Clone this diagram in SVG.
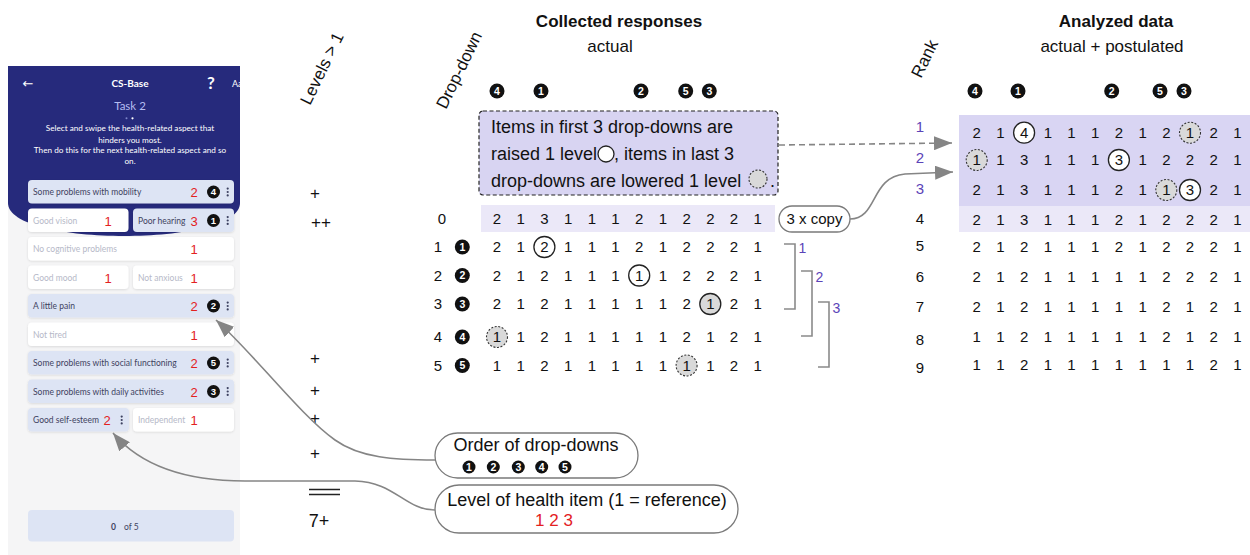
<svg xmlns="http://www.w3.org/2000/svg" width="1250" height="555" viewBox="0 0 1250 555">
  <defs>
    <style>
      text { font-family: "Liberation Sans", Arial, sans-serif; fill: #111; }
      .h { font-size: 17px; font-weight: bold; text-anchor: middle; }
      .sub { font-size: 17px; text-anchor: middle; }
      .rot { font-size: 17px; }
      .g { font-size: 15px; text-anchor: middle; }
      .mk { font-size: 17px; text-anchor: middle; }
      .box { font-size: 18px; }
      .lbl { font-size: 18px; text-anchor: middle; }
      .nb circle { fill: #111; }
      .nb text { fill: #fff; font-weight: bold; font-size: 10.5px; text-anchor: middle; }
      .pn circle { fill: #111; }
      .pn text { fill: #fff; font-weight: bold; font-size: 9.5px; text-anchor: middle; }
      .purple { fill: #5b43b8; }
      .red { fill: #e3211f; }
      .ring { fill: #fff; stroke: #222; stroke-width: 1.3; }
      .shade { fill: #d9d9d9; stroke: #222; stroke-width: 1.3; }
      .dshade { fill: #d9d9d9; stroke: #333; stroke-width: 1.1; stroke-dasharray: 2 1.6; }
      .conn { fill: none; stroke: #858585; stroke-width: 1.6; }
      .pill { fill: #fff; stroke: #7a7a7a; stroke-width: 1.3; }
      .brk { fill: none; stroke: #8a8a8a; stroke-width: 1.6; }
      .cb { fill: #dde4f4; filter: url(#sh); }
      .cw { fill: #ffffff; filter: url(#sh); }
      .ct { font-family: Lato, "Noto Sans", sans-serif; font-size: 8.5px; fill: #3d4260; }
      .cg { font-family: Lato, "Noto Sans", sans-serif; font-size: 8.5px; fill: #b6b9c8; }
      .rd { font-size: 13px; fill: #e3211f; text-anchor: middle; }
      .dots circle { fill: #3d4260; }
      .hw { font-family: Lato, "Noto Sans", sans-serif; fill: #fff; text-anchor: middle; }
    </style>
    <filter id="sh" x="-5%" y="-25%" width="110%" height="160%">
      <feDropShadow dx="0" dy="0.8" stdDeviation="0.8" flood-color="#000" flood-opacity="0.12"/>
    </filter>
    <clipPath id="phoneClip"><rect x="8" y="66" width="232" height="489"/></clipPath>
    <marker id="ah" markerUnits="userSpaceOnUse" markerWidth="20" markerHeight="14" refX="18" refY="7" orient="auto" viewBox="0 0 20 14">
      <path d="M0,0 L18,7 L0,14 z" fill="#858585"/>
    </marker>
  </defs>

  <!-- app screen -->
  <g id="phone" clip-path="url(#phoneClip)">
    <rect x="8" y="66" width="232" height="489" fill="#f5f5f6"/>
    <path d="M8,66 H240 V203 C240,247 8,247 8,203 Z" fill="#262a7c"/>
    <text x="28" y="88" class="hw" style="font-family:'DejaVu Sans',sans-serif;font-size:13px">←</text>
    <text x="130" y="87" class="hw" style="font-size:10px;font-weight:bold">CS-Base</text>
    <text x="211" y="89" class="hw" style="font-size:17px;font-weight:bold">?</text>
    <text x="232" y="87" class="hw" style="font-size:9px;text-anchor:start">Aa</text>
    <text x="130" y="110" class="hw" style="font-size:11.5px;fill:#b4bdf2">Task 2</text>
    <circle cx="126.5" cy="118.3" r="1" fill="#7c84c8"/>
    <circle cx="132.5" cy="118.3" r="1.1" fill="#fff"/>
    <text class="hw" style="font-size:8.2px" x="130" y="131">Select and swipe the health-related aspect that</text>
    <text class="hw" style="font-size:8.2px" x="130" y="142.5">hinders you most.</text>
    <text class="hw" style="font-size:8.2px" x="130" y="153">Then do this for the next health-related aspect and so</text>
    <text class="hw" style="font-size:8.2px" x="130" y="163.5">on.</text>

    <!-- row 1 -->
    <rect class="cb" x="28" y="180" width="206" height="23.5" rx="4"/>
    <text class="ct" x="33" y="195">Some problems with mobility</text>
    <text class="rd" x="194" y="197">2</text>
    <g class="pn"><circle cx="213.5" cy="192" r="6.5"/><text x="213.5" y="195.4">4</text></g>
    <g class="dots"><circle cx="227.7" cy="188.6" r="1.1"/><circle cx="227.7" cy="192" r="1.1"/><circle cx="227.7" cy="195.4" r="1.1"/></g>

    <!-- row 2 -->
    <rect class="cw" x="28" y="208.5" width="100.5" height="23.5" rx="4"/>
    <text class="cg" x="33" y="223.5">Good vision</text>
    <text class="rd" x="108" y="225.5">1</text>
    <rect class="cb" x="133" y="208.5" width="101" height="23.5" rx="4"/>
    <text class="ct" x="138" y="223.5">Poor hearing</text>
    <text class="rd" x="194" y="225.5">3</text>
    <g class="pn"><circle cx="213.5" cy="220.5" r="6.5"/><text x="213.5" y="223.9">1</text></g>
    <g class="dots"><circle cx="227.7" cy="217.1" r="1.1"/><circle cx="227.7" cy="220.5" r="1.1"/><circle cx="227.7" cy="223.9" r="1.1"/></g>

    <!-- row 3 -->
    <rect class="cw" x="28" y="237" width="206" height="23.5" rx="4"/>
    <text class="cg" x="33" y="252">No cognitive problems</text>
    <text class="rd" x="194" y="254">1</text>

    <!-- row 4 -->
    <rect class="cw" x="28" y="265.5" width="100.5" height="23.5" rx="4"/>
    <text class="cg" x="33" y="280.5">Good mood</text>
    <text class="rd" x="108" y="282.5">1</text>
    <rect class="cw" x="133" y="265.5" width="101" height="23.5" rx="4"/>
    <text class="cg" x="138" y="280.5">Not anxious</text>
    <text class="rd" x="194" y="282.5">1</text>

    <!-- row 5 -->
    <rect class="cb" x="28" y="294" width="206" height="23.5" rx="4"/>
    <text class="ct" x="33" y="309">A little pain</text>
    <text class="rd" x="194" y="311">2</text>
    <g class="pn"><circle cx="213.5" cy="306" r="6.5"/><text x="213.5" y="309.4">2</text></g>
    <g class="dots"><circle cx="227.7" cy="302.6" r="1.1"/><circle cx="227.7" cy="306" r="1.1"/><circle cx="227.7" cy="309.4" r="1.1"/></g>

    <!-- row 6 -->
    <rect class="cw" x="28" y="322.5" width="206" height="23.5" rx="4"/>
    <text class="cg" x="33" y="337.5">Not tired</text>
    <text class="rd" x="194" y="339.5">1</text>

    <!-- row 7 -->
    <rect class="cb" x="28" y="351" width="206" height="23.5" rx="4"/>
    <text class="ct" x="33" y="366">Some problems with social functioning</text>
    <text class="rd" x="194" y="368">2</text>
    <g class="pn"><circle cx="213.5" cy="363" r="6.5"/><text x="213.5" y="366.4">5</text></g>
    <g class="dots"><circle cx="227.7" cy="359.6" r="1.1"/><circle cx="227.7" cy="363" r="1.1"/><circle cx="227.7" cy="366.4" r="1.1"/></g>

    <!-- row 8 -->
    <rect class="cb" x="28" y="379.5" width="206" height="23.5" rx="4"/>
    <text class="ct" x="33" y="394.5">Some problems with daily activities</text>
    <text class="rd" x="194" y="396.5">2</text>
    <g class="pn"><circle cx="213.5" cy="391.5" r="6.5"/><text x="213.5" y="394.9">3</text></g>
    <g class="dots"><circle cx="227.7" cy="388.1" r="1.1"/><circle cx="227.7" cy="391.5" r="1.1"/><circle cx="227.7" cy="394.9" r="1.1"/></g>

    <!-- row 9 -->
    <rect class="cb" x="28" y="408" width="101" height="23.5" rx="4"/>
    <text class="ct" x="33" y="423">Good self-esteem</text>
    <text class="rd" x="107" y="425">2</text>
    <g class="dots"><circle cx="121.7" cy="416.6" r="1.1"/><circle cx="121.7" cy="420" r="1.1"/><circle cx="121.7" cy="423.4" r="1.1"/></g>
    <rect class="cw" x="133" y="408" width="101" height="23.5" rx="4"/>
    <text class="cg" x="138" y="423">Independent</text>
    <text class="rd" x="194" y="425">1</text>

    <!-- counter -->
    <rect x="28" y="510" width="206" height="31.5" rx="4" fill="#dde4f4"/>
    <text class="ct" x="113.5" y="529.5" style="font-weight:bold;text-anchor:middle">0</text>
    <text class="ct" x="124" y="529.5">of 5</text>
  </g>

  <!-- rotated column headings and titles -->
  <g id="headings">
    <text class="rot" transform="translate(310,106) rotate(-64)">Levels &gt; 1</text>
    <text class="rot" transform="translate(446,110) rotate(-64)">Drop-down</text>
    <text class="rot" transform="translate(921,79) rotate(-64)">Rank</text>
    <text class="h" x="619" y="27">Collected responses</text>
    <text class="sub" x="610" y="52">actual</text>
    <text class="h" x="1116" y="27">Analyzed data</text>
    <text class="sub" x="1112" y="52">actual + postulated</text>
  </g>

  <!-- level markers -->
  <g id="levels">
    <text class="mk" x="315" y="199">+</text>
    <text class="mk" x="321" y="228">++</text>
    <text class="mk" x="315" y="364">+</text>
    <text class="mk" x="315" y="396">+</text>
    <text class="mk" x="315" y="424">+</text>
    <text class="mk" x="315" y="459">+</text>
    <path d="M309,489.5 H340 M309,494.5 H340" stroke="#222" stroke-width="1.4"/>
    <text class="mk" x="319" y="527" style="font-size:18px">7+</text>
  </g>

  <!-- collected responses -->
  <g id="collected">
    <g class="nb">
      <circle cx="497" cy="91" r="7.5"/><text x="497" y="94.8">4</text>
      <circle cx="541" cy="91" r="7.5"/><text x="541" y="94.8">1</text>
      <circle cx="641" cy="91" r="7.5"/><text x="641" y="94.8">2</text>
      <circle cx="685.7" cy="91" r="7.5"/><text x="685.7" y="94.8">5</text>
      <circle cx="709.3" cy="91" r="7.5"/><text x="709.3" y="94.8">3</text>
    </g>
    <rect x="481" y="205" width="294" height="27" fill="#ebe8f8"/>
    <circle class="ring" cx="544.4" cy="247" r="10.5"/>
    <circle class="ring" cx="639.2" cy="275.5" r="10.5"/>
    <circle class="shade" cx="710.3" cy="304" r="10.5"/>
    <circle class="dshade" cx="497" cy="337" r="10.5"/>
    <circle class="dshade" cx="686.6" cy="365.5" r="10.5"/>
    <g class="g">
      <text x="497 520.7 544.4 568.1 591.8 615.5 639.2 662.9 686.6 710.3 734 757.7" y="224.4">213111212221</text>
      <text x="497 520.7 544.4 568.1 591.8 615.5 639.2 662.9 686.6 710.3 734 757.7" y="252.4">212111212221</text>
      <text x="497 520.7 544.4 568.1 591.8 615.5 639.2 662.9 686.6 710.3 734 757.7" y="280.9">212111112221</text>
      <text x="497 520.7 544.4 568.1 591.8 615.5 639.2 662.9 686.6 710.3 734 757.7" y="309.4">212111112121</text>
      <text x="497 520.7 544.4 568.1 591.8 615.5 639.2 662.9 686.6 710.3 734 757.7" y="342.4">112111112121</text>
      <text x="497 520.7 544.4 568.1 591.8 615.5 639.2 662.9 686.6 710.3 734 757.7" y="370.9">112111111121</text>
      <text x="442" y="224.4">0</text>
      <text x="438" y="252.4">1</text>
      <text x="438" y="280.9">2</text>
      <text x="438" y="309.4">3</text>
      <text x="438" y="342.4">4</text>
      <text x="438" y="370.9">5</text>
    </g>
    <g class="nb">
      <circle cx="462.3" cy="247" r="7.5"/><text x="462.3" y="250.8">1</text>
      <circle cx="462.3" cy="275.5" r="7.5"/><text x="462.3" y="279.3">2</text>
      <circle cx="462.3" cy="304" r="7.5"/><text x="462.3" y="307.8">3</text>
      <circle cx="462.3" cy="337" r="7.5"/><text x="462.3" y="340.8">4</text>
      <circle cx="462.3" cy="365.5" r="7.5"/><text x="462.3" y="369.3">5</text>
    </g>
  </g>

  <!-- rule note -->
  <g id="rule-note">
    <rect x="479" y="111" width="299" height="84" rx="4" fill="#d8d4f2" stroke="#222" stroke-width="1.2" stroke-dasharray="4 2.5"/>
    <text class="box" x="491" y="133">Items in first 3 drop-downs are</text>
    <text class="box" x="491" y="160">raised 1 level</text>
    <circle class="ring" cx="606" cy="154" r="8"/>
    <text class="box" x="614" y="160">, items in last 3</text>
    <text class="box" x="491" y="187">drop-downs are lowered 1 level</text>
    <circle class="dshade" cx="758" cy="179" r="9"/>
    <text class="box" x="770" y="187">.</text>
  </g>

  <!-- copy note -->
  <g id="copy-note">
    <rect class="pill" x="779" y="206" width="71" height="26" rx="13"/>
    <text x="814.5" y="224" style="font-size:15px;text-anchor:middle">3 x copy</text>
  </g>

  <!-- analyzed data -->
  <g id="analyzed">
    <g class="nb">
      <circle cx="975" cy="91" r="7.5"/><text x="975" y="94.8">4</text>
      <circle cx="1018" cy="91" r="7.5"/><text x="1018" y="94.8">1</text>
      <circle cx="1111.7" cy="91" r="7.5"/><text x="1111.7" y="94.8">2</text>
      <circle cx="1160" cy="91" r="7.5"/><text x="1160" y="94.8">5</text>
      <circle cx="1184" cy="91" r="7.5"/><text x="1184" y="94.8">3</text>
    </g>
    <rect x="959" y="115" width="291" height="91" fill="#d9d5f3"/>
    <rect x="959" y="206" width="291" height="26" fill="#ebe8f8"/>
    <circle class="ring" cx="1024.1" cy="132.7" r="10.5"/>
    <circle class="dshade" cx="1190" cy="132.7" r="10.5"/>
    <circle class="dshade" cx="976.7" cy="160" r="10.5"/>
    <circle class="ring" cx="1118.9" cy="160" r="10.5"/>
    <circle class="dshade" cx="1166.3" cy="190" r="10.5"/>
    <circle class="ring" cx="1190" cy="190" r="10.5"/>
    <g class="g">
      <text x="976.7 1000.4 1024.1 1047.8 1071.5 1095.2 1118.9 1142.6 1166.3 1190 1213.7 1237.4" y="138.1">214111212121</text>
      <text x="976.7 1000.4 1024.1 1047.8 1071.5 1095.2 1118.9 1142.6 1166.3 1190 1213.7 1237.4" y="165.4">113111312221</text>
      <text x="976.7 1000.4 1024.1 1047.8 1071.5 1095.2 1118.9 1142.6 1166.3 1190 1213.7 1237.4" y="195.4">213111211321</text>
      <text x="976.7 1000.4 1024.1 1047.8 1071.5 1095.2 1118.9 1142.6 1166.3 1190 1213.7 1237.4" y="225.4">213111212221</text>
      <text x="976.7 1000.4 1024.1 1047.8 1071.5 1095.2 1118.9 1142.6 1166.3 1190 1213.7 1237.4" y="252.4">212111212221</text>
      <text x="976.7 1000.4 1024.1 1047.8 1071.5 1095.2 1118.9 1142.6 1166.3 1190 1213.7 1237.4" y="282.1">212111112221</text>
      <text x="976.7 1000.4 1024.1 1047.8 1071.5 1095.2 1118.9 1142.6 1166.3 1190 1213.7 1237.4" y="312.1">212111112121</text>
      <text x="976.7 1000.4 1024.1 1047.8 1071.5 1095.2 1118.9 1142.6 1166.3 1190 1213.7 1237.4" y="342.1">112111112121</text>
      <text x="976.7 1000.4 1024.1 1047.8 1071.5 1095.2 1118.9 1142.6 1166.3 1190 1213.7 1237.4" y="370.4">112111111121</text>
      <text class="purple" x="920" y="132">1</text>
      <text class="purple" x="920" y="163.4">2</text>
      <text class="purple" x="920" y="194.4">3</text>
      <text x="920" y="224.4">4</text>
      <text x="920" y="251">5</text>
      <text x="920" y="282">6</text>
      <text x="920" y="312">7</text>
      <text x="920" y="345.4">8</text>
      <text x="920" y="373.4">9</text>
    </g>
  </g>

  <!-- legend callouts -->
  <g id="order-callout">
    <rect class="pill" x="435" y="433" width="203" height="45" rx="22.5"/>
    <text class="lbl" x="536" y="451">Order of drop-downs</text>
    <g class="nb">
      <circle cx="469" cy="467" r="6.5"/><text x="469" y="470.5">1</text>
      <circle cx="493.3" cy="467" r="6.5"/><text x="493.3" y="470.5">2</text>
      <circle cx="518.3" cy="467" r="6.5"/><text x="518.3" y="470.5">3</text>
      <circle cx="541.7" cy="467" r="6.5"/><text x="541.7" y="470.5">4</text>
      <circle cx="565" cy="467" r="6.5"/><text x="565" y="470.5">5</text>
    </g>
  </g>
  <g id="level-callout">
    <rect class="pill" x="435" y="485" width="303" height="48" rx="24"/>
    <text class="lbl" x="587" y="506">Level of health item (1 = reference)</text>
    <text class="red" x="554" y="526" style="font-size:17px;text-anchor:middle">1 2 3</text>
  </g>

  <!-- connectors -->
  <g id="connectors">
    <path class="conn" d="M435,460 C395,460 360,458 335,440 C300,415 255,355 216,320" marker-end="url(#ah)"/>
    <path class="conn" d="M435,510 C405,510 395,482 355,481 L245,481 C185,481 140,465 113,433" marker-end="url(#ah)"/>
    <path class="conn" d="M779,145 L952,143" stroke-dasharray="6 4" marker-end="url(#ah)"/>
    <path class="conn" d="M850,219 C878,219 870,177 905,174 L953,172" marker-end="url(#ah)"/>
    <path class="brk" d="M784,244 H795 V309 H784"/>
    <path class="brk" d="M801,271 H812 V336 H801"/>
    <path class="brk" d="M818,302 H829 V367 H818"/>
    <g style="font-size:14px;text-anchor:middle">
      <text class="purple" x="802.5" y="253">1</text>
      <text class="purple" x="819.5" y="282">2</text>
      <text class="purple" x="836.5" y="313">3</text>
    </g>
  </g>
</svg>
